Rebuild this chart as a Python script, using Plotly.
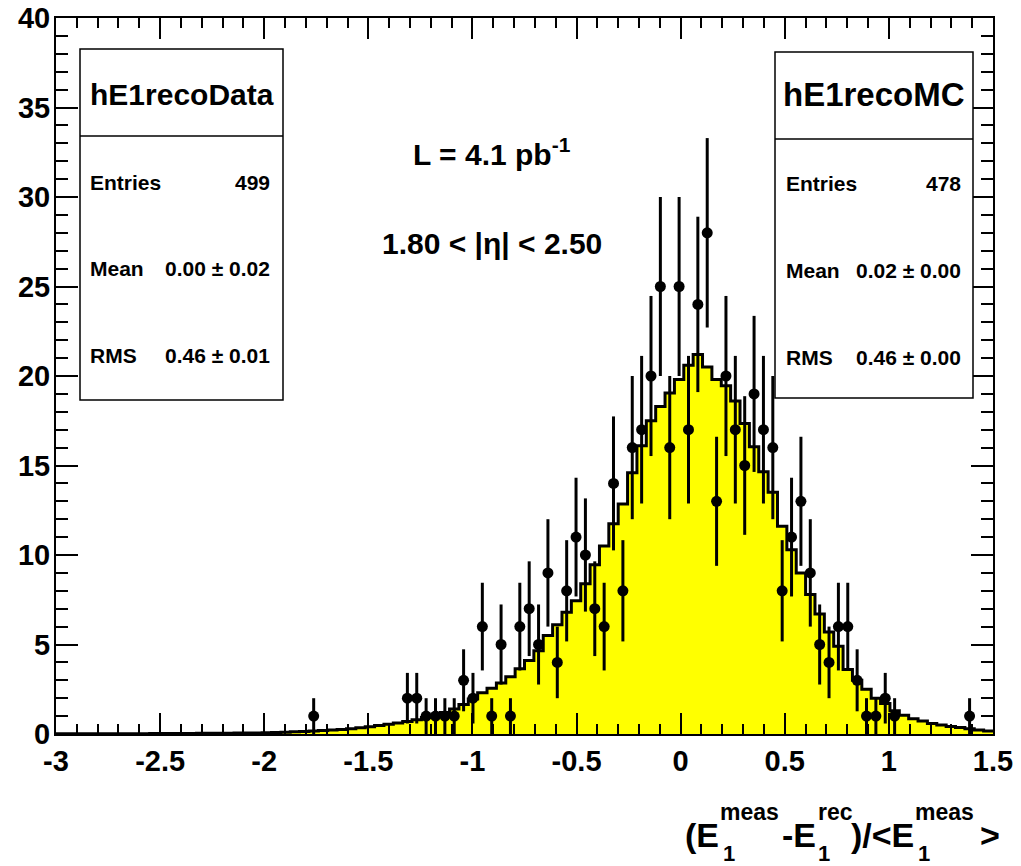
import numpy as np
import plotly.graph_objects as go

# ---------------- data ----------------
x_min, x_max, n_bins = -3.0, 1.5, 100

mc_counts = [
    0.02, 0.02, 0.02, 0.02, 0.02, 0.02, 0.02, 0.02, 0.02, 0.02,
    0.03, 0.03, 0.03, 0.03, 0.03, 0.04, 0.04, 0.04, 0.04, 0.05,
    0.05, 0.06, 0.07, 0.08, 0.10, 0.12, 0.14, 0.17, 0.20, 0.22,
    0.25, 0.30, 0.35, 0.40, 0.48, 0.55, 0.62, 0.70, 0.80, 0.92,
    1.05, 1.20, 1.40, 1.65, 1.95, 2.30, 2.55, 2.85, 3.20, 3.65,
    4.10, 4.65, 5.50, 6.10, 6.80, 7.45, 8.40, 9.45, 10.50, 11.75,
    12.85, 14.60, 16.10, 17.50, 18.30, 19.05, 19.80, 20.60, 21.20, 20.50,
    19.80, 19.45, 18.60, 17.35, 16.05, 14.65, 13.50, 11.60, 10.30, 9.00,
    7.80, 6.70, 5.70, 4.90, 3.60, 3.00, 2.50, 2.00, 1.70, 1.30,
    1.05, 0.85, 0.72, 0.58, 0.50, 0.42, 0.36, 0.30, 0.23, 0.17,
]

data_counts = [
    0, 0, 0, 0, 0, 0, 0, 0, 0, 0,
    0, 0, 0, 0, 0, 0, 0, 0, 0, 0,
    0, 0, 0, 0, 0, 0, 0, 1, 0, 0,
    0, 0, 0, 0, 0, 0, 0, 2, 2, 1,
    1, 1, 1, 3, 2, 6, 1, 5, 1, 6,
    7, 5, 9, 4, 8, 11, 10, 7, 6, 14,
    8, 16, 17, 20, 25, 16, 25, 17, 24, 28,
    13, 20, 17, 15, 19, 17, 16, 8, 11, 13,
    9, 5, 4, 6, 6, 3, 1, 1, 2, 1,
    0, 0, 0, 0, 0, 0, 0, 1, 0, 0,
]

x_tick_vals = [-3, -2.5, -2, -1.5, -1, -0.5, 0, 0.5, 1, 1.5]
x_tick_text = ["-3", "-2.5", "-2", "-1.5", "-1", "-0.5", "0", "0.5", "1", "1.5"]
y_tick_vals = [0, 5, 10, 15, 20, 25, 30, 35, 40]
y_tick_text = ["0", "5", "10", "15", "20", "25", "30", "35", "40"]

stats_data = {"title": "hE1recoData", "entries": "499", "mean": "0.00 \u00b1 0.02", "rms": "0.46 \u00b1 0.01"}
stats_mc = {"title": "hE1recoMC", "entries": "478", "mean": "0.02 \u00b1 0.00", "rms": "0.46 \u00b1 0.00"}

# ---------------- derived ----------------
edges = np.linspace(x_min, x_max, n_bins + 1)
centers = 0.5 * (edges[:-1] + edges[1:])
mc = np.array(mc_counts)
dc = np.array(data_counts, dtype=float)
mask = dc > 0

W, H = 1021, 866
PL, PR, PT, PB = 56, 993, 18, 734

def px(p):
    return (p - PL) / (PR - PL)

def py(p):
    return (PB - p) / (PB - PT)

FONT = "Liberation Sans, Arial, Helvetica"

fig = go.Figure()

fig.add_trace(go.Scatter(
    x=edges, y=np.append(mc, mc[-1]),
    mode="lines", line=dict(shape="hv", color="black", width=3),
    fill="tozeroy", fillcolor="#ffff00", hoverinfo="skip", showlegend=False,
))

fig.add_trace(go.Scatter(
    x=centers[mask], y=dc[mask], mode="markers",
    marker=dict(color="black", size=11),
    error_y=dict(type="data", array=np.sqrt(dc[mask]), color="black", thickness=3, width=0),
    showlegend=False,
))

shapes = []
annotations = []

def stat_box(x0, x1, y0, y1, ydiv, st, ytitle, tsize, yrows, xl, xr):
    shapes.append(dict(type="rect", xref="paper", yref="paper",
                       x0=px(x0), x1=px(x1), y0=py(y1), y1=py(y0),
                       line=dict(color="black", width=1.5), fillcolor="white", layer="above"))
    shapes.append(dict(type="line", xref="paper", yref="paper",
                       x0=px(x0), x1=px(x1), y0=py(ydiv), y1=py(ydiv),
                       line=dict(color="black", width=1.5), layer="above"))
    annotations.append(dict(xref="paper", yref="paper", x=px((x0 + x1) / 2), y=py(ytitle),
                            text=st["title"], showarrow=False, xanchor="center", yanchor="middle",
                            font=dict(family=FONT, size=tsize, color="black", weight="bold")))
    labels = ["Entries", "Mean", "RMS"]
    vals = [st["entries"], st["mean"], st["rms"]]
    for lab, val, yy in zip(labels, vals, yrows):
        annotations.append(dict(xref="paper", yref="paper", x=px(xl), y=py(yy), text=lab,
                                showarrow=False, xanchor="left", yanchor="middle",
                                font=dict(family=FONT, size=21, color="black", weight="bold")))
        annotations.append(dict(xref="paper", yref="paper", x=px(xr), y=py(yy), text=val,
                                showarrow=False, xanchor="right", yanchor="middle",
                                font=dict(family=FONT, size=21, color="black", weight="bold")))

stat_box(80, 283, 49, 400, 136, stats_data, 95, 30, [182, 268, 355], 88, 272)
stat_box(775, 973, 52, 398, 139, stats_mc, 94, 33, [183, 270, 357], 784, 963)

# text labels
annotations.append(dict(xref="paper", yref="paper", x=px(492), y=py(152),
                        text="L = 4.1 pb<sup>-1</sup>", showarrow=False, xanchor="center", yanchor="middle",
                        font=dict(family=FONT, size=30, color="black", weight="bold")))
annotations.append(dict(xref="paper", yref="paper", x=px(492), y=py(243),
                        text="1.80 < |\u03b7| < 2.50", showarrow=False, xanchor="center", yanchor="middle",
                        font=dict(family=FONT, size=30, color="black", weight="bold")))

# x-axis title built from pieces (stacked super/subscripts)
title_pieces = [
    ("(E", 683, 835, 34), ("meas", 718, 812, 23), ("1", 721, 853, 22),
    ("-E", 780, 835, 34), ("rec", 816, 812, 23), ("1", 816, 853, 22),
    (")/<E", 849, 835, 34), ("meas", 913, 812, 23), ("1", 916, 853, 22),
    (">", 978, 835, 34),
]
for txt, xx, yy, sz in title_pieces:
    annotations.append(dict(xref="paper", yref="paper", x=px(xx), y=py(yy), text=txt,
                            showarrow=False, xanchor="left", yanchor="middle",
                            font=dict(family=FONT, size=sz, color="black", weight="bold")))

axis_common = dict(showline=True, linecolor="black", linewidth=2, mirror="ticks",
                   ticks="inside", tickcolor="black", tickwidth=2, showgrid=False, zeroline=False,
                   tickfont=dict(family=FONT, size=29, color="black", weight="bold"))

fig.update_layout(
    width=W, height=H, template="none",
    margin=dict(l=PL, r=W - PR, t=PT, b=H - PB, pad=0),
    paper_bgcolor="white", plot_bgcolor="white",
    showlegend=False,
    xaxis=dict(range=[x_min, x_max], tickmode="array", tickvals=x_tick_vals, ticktext=x_tick_text,
               ticklen=21, ticklabelstandoff=0,
               minor=dict(tick0=x_min, dtick=0.1, ticks="inside", ticklen=10, tickwidth=2, tickcolor="black"),
               **axis_common),
    yaxis=dict(range=[0, 40], tickmode="array", tickvals=y_tick_vals, ticktext=y_tick_text,
               ticklen=22, ticklabelstandoff=-2,
               minor=dict(tick0=0, dtick=1, ticks="inside", ticklen=12, tickwidth=2, tickcolor="black"),
               **axis_common),
    shapes=shapes, annotations=annotations,
)

fig.write_html("out.html")
